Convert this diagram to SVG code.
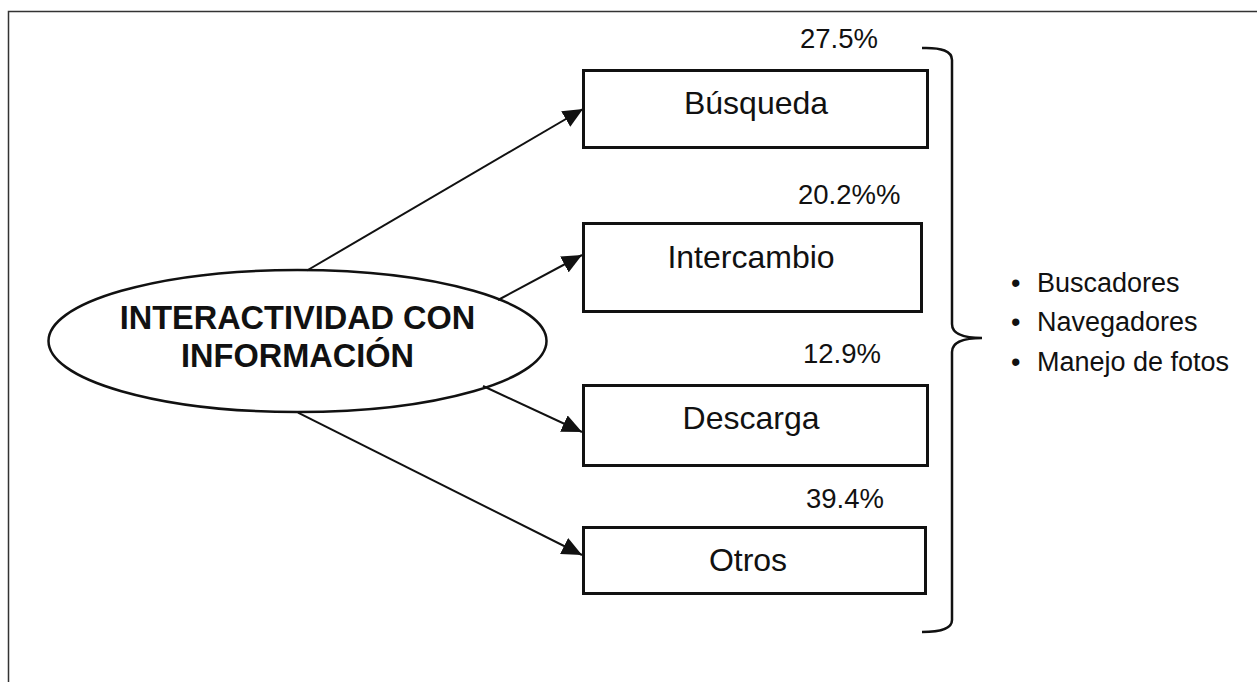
<svg xmlns="http://www.w3.org/2000/svg" width="1257" height="682" viewBox="0 0 1257 682">
<defs>
<style>
.t{font-family:"Liberation Sans",Arial,sans-serif;fill:#111}
.lbl{font-size:32px;text-anchor:middle}
.pct{font-size:27.5px}
.bul{font-size:27px}
.box{fill:#fff;stroke:#111;stroke-width:3}
.con{stroke:#111;stroke-width:2;fill:none;marker-end:url(#ah)}
</style>
<marker id="ah" markerWidth="22" markerHeight="18" refX="20" refY="9" orient="auto" markerUnits="userSpaceOnUse">
<path d="M0,0 L20,9 L0,18 Z" fill="#111"/>
</marker>
</defs>
<rect x="0" y="0" width="1257" height="682" fill="#fff"/>
<rect x="8.5" y="11.5" width="1260" height="690" fill="none" stroke="#333" stroke-width="1.5"/>

<g id="connectors">
<line class="con" x1="307" y1="270.5" x2="583" y2="109"/>
<line class="con" x1="498" y1="300" x2="582" y2="255"/>
<line class="con" x1="483" y1="386" x2="582" y2="432"/>
<line class="con" x1="298" y1="412.7" x2="582" y2="555"/>
</g>

<g id="center">
<ellipse cx="297.5" cy="341" rx="249" ry="71" fill="none" stroke="#111" stroke-width="2.5"/>
<text class="t" x="297.5" y="329" font-size="32.5" font-weight="bold" text-anchor="middle">INTERACTIVIDAD CON</text>
<text class="t" x="297.5" y="367" font-size="32.5" font-weight="bold" text-anchor="middle">INFORMACIÓN</text>
</g>

<g id="busqueda">
<rect class="box" x="583.5" y="70.5" width="344" height="77"/>
<text class="t lbl" x="756" y="114">Búsqueda</text>
<text class="t pct" x="800" y="48">27.5%</text>
</g>

<g id="intercambio">
<rect class="box" x="583.5" y="223.5" width="338" height="88"/>
<text class="t lbl" x="751" y="268">Intercambio</text>
<text class="t pct" x="798" y="204">20.2%%</text>
</g>

<g id="descarga">
<rect class="box" x="583.5" y="385.5" width="344" height="80"/>
<text class="t lbl" x="751" y="429">Descarga</text>
<text class="t pct" x="803" y="363">12.9%</text>
</g>

<g id="otros">
<rect class="box" x="583.5" y="527.5" width="342" height="66"/>
<text class="t lbl" x="748" y="571">Otros</text>
<text class="t pct" x="806" y="508">39.4%</text>
</g>

<g id="brace">
<path d="M922,48 Q952,47 952,60 L952,324 Q952,338 982,338 Q952,338 952,352 L952,620 Q952,632 922,632" fill="none" stroke="#111" stroke-width="2.5"/>
</g>

<g id="list">
<text class="t bul" x="1011" y="292">•</text>
<text class="t bul" x="1037" y="292">Buscadores</text>
<text class="t bul" x="1011" y="331">•</text>
<text class="t bul" x="1037" y="331">Navegadores</text>
<text class="t bul" x="1011" y="371">•</text>
<text class="t bul" x="1037" y="371">Manejo de fotos</text>
</g>
</svg>
